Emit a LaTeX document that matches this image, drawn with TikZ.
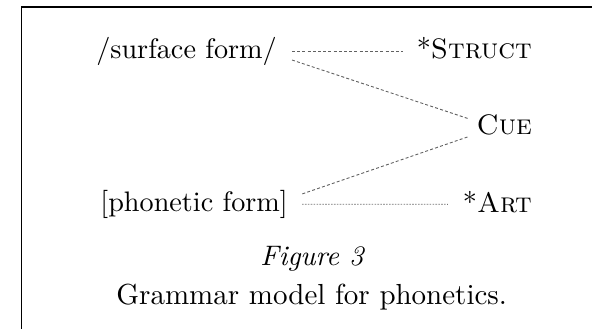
\documentclass[tikz,border=0pt]{standalone}
\usetikzlibrary{calc}
\newcommand{\lbltxt}[1]{\scalebox{2.82}{\fontsize{10}{12}\selectfont #1}}
\newcommand{\captxt}[1]{\scalebox{2.9}{\fontsize{10}{12}\selectfont #1}}
\begin{document}
\tikzset{
  lbl/.style={inner sep=0pt, anchor=base east},
  captionnode/.style={inner sep=0pt, anchor=base},
  dotline/.style={draw=black!62, line width=0.9pt, dash pattern=on 3pt off 2.2pt},
  fineline/.style={draw=black!55, line width=0.9pt, dash pattern=on 1.6pt off 1.3pt},
  frameline/.style={line width=1.4pt, line cap=butt}
}
\begin{tikzpicture}[x=1pt,y=-1pt]
\useasboundingbox (0,0) rectangle (592,329);
% frame (open at right and bottom)
\draw[frameline] (21.5,329) -- (21.5,7) -- (592,7);
% labels
\node[lbl] (sf)  at (277,59)    {\lbltxt{/surface form/}};
\node[lbl] (st)  at (532,59)    {\lbltxt{*\textsc{Struct}}};
\node[lbl] (cue) at (532,135)   {\lbltxt{\textsc{Cue}}};
\node[lbl] (ph)  at (288,211.5) {\lbltxt{[phonetic form]}};
\node[lbl] (art) at (532,212)   {\lbltxt{*\textsc{Art}}};
% caption
\node[captionnode] (fig) at (312,265) {\lbltxt{\itshape Figure 3}};
\node[captionnode] (cap) at (311.7,304) {\captxt{Grammar model for phonetics.}};
% connectors
\draw[dotline] ($(sf.base east)+(15,-8)$) -- ($(st.base west)+(-14,-8)$);
\draw[dotline] ($(sf.base east)+(15,1)$) -- ($(cue.base west)+(-7,-16)$);
\draw[dotline] ($(cue.base west)+(-9,2)$) -- ($(ph.base east)+(14,-17.5)$);
\draw[fineline] ($(ph.base east)+(14,-7.3)$) -- ($(art.base west)+(-15,-7.7)$);
\end{tikzpicture}
\end{document}
